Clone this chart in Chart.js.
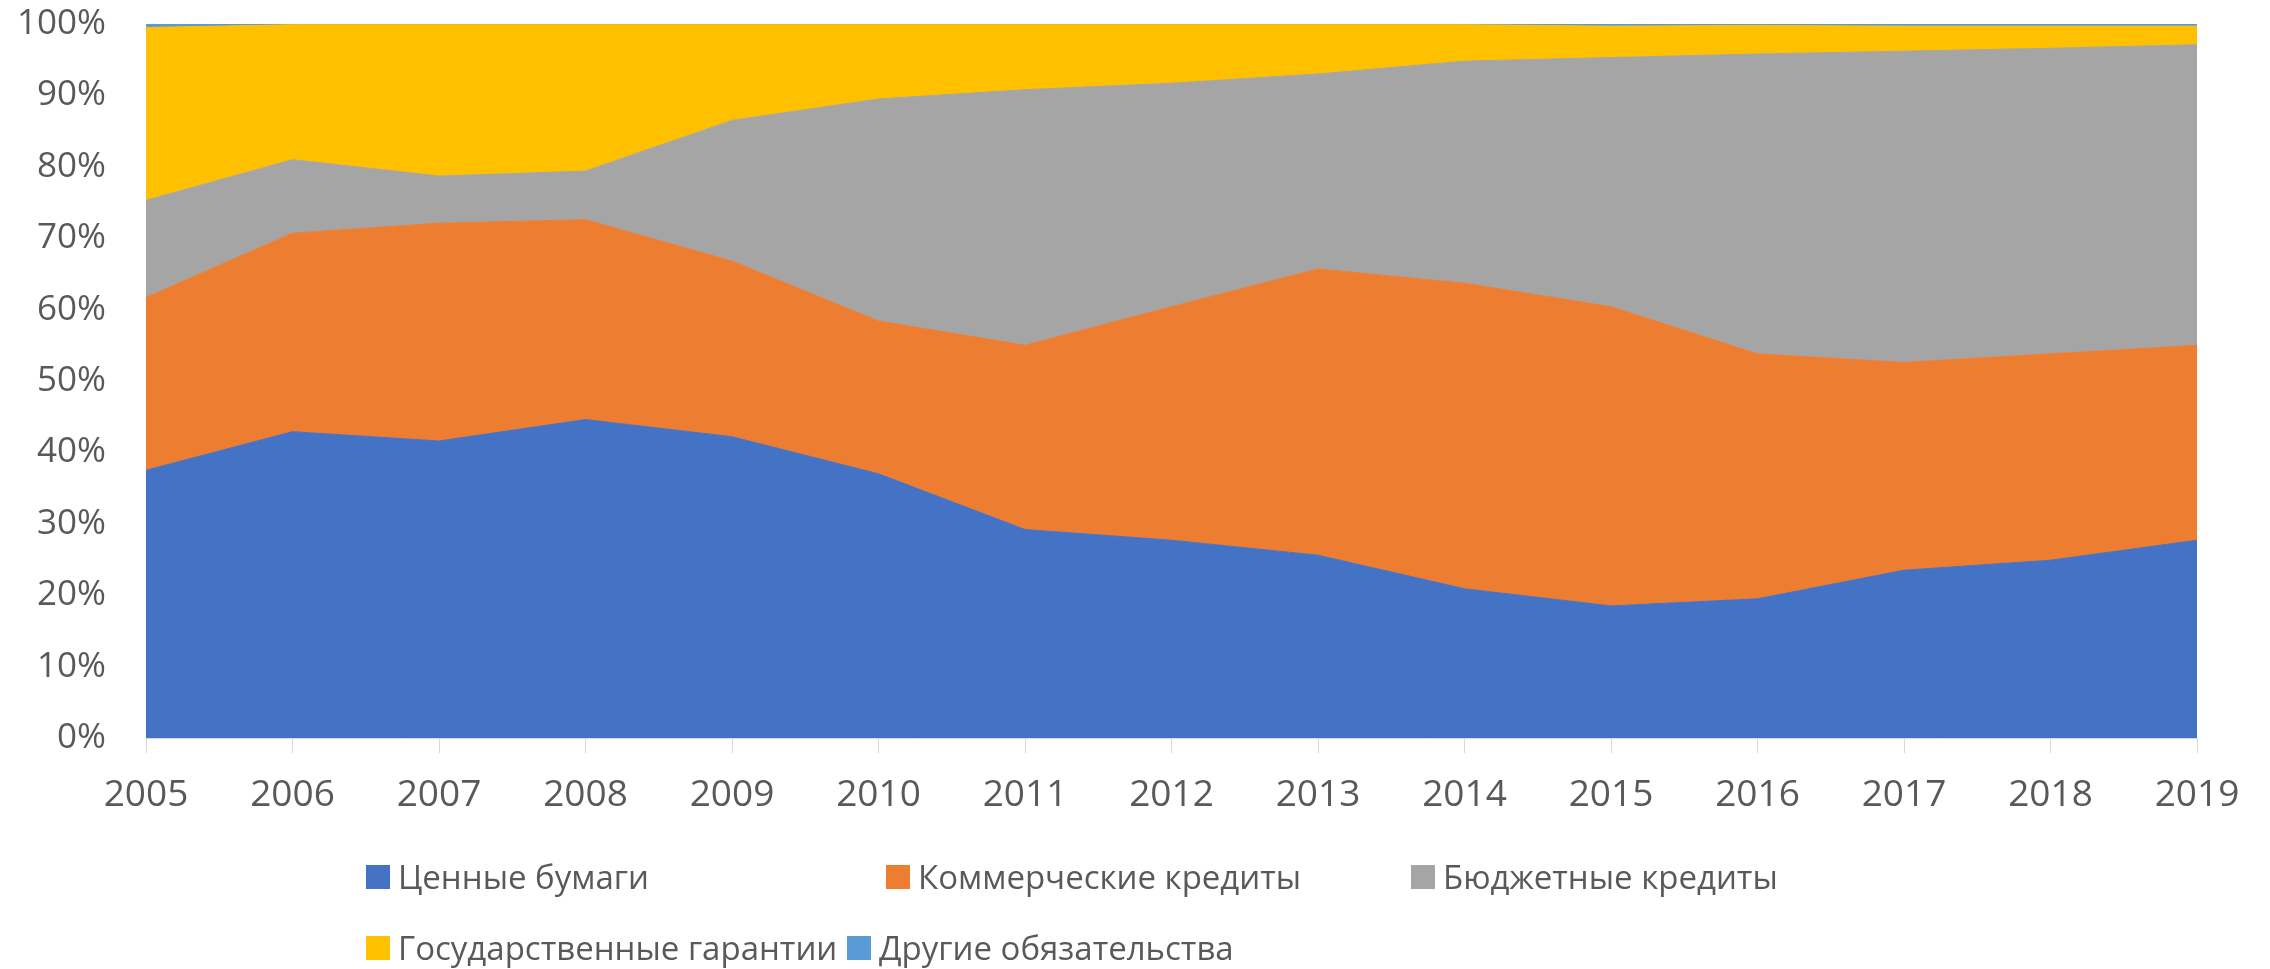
<!DOCTYPE html>
<html>
<head>
<meta charset="utf-8">
<script src="https://cdn.jsdelivr.net/npm/chart.js@4"></script>
<style>
  html, body { margin: 0; padding: 0; background: #fff; }
  #wrap { position: relative; width: 2270px; height: 969px; overflow: hidden; font-family: "Open Sans", sans-serif; }
  #myChart { position: absolute; left: 0; top: 0; }
  .leg { position: absolute; display: flex; align-items: center; font-size: 33px; line-height: 40px; color: #595959; white-space: nowrap; }
  .leg i { display: inline-block; width: 24px; height: 24px; margin-right: 8px; }
</style>
</head>
<body>
<div id="wrap">
  <canvas id="myChart" width="2270" height="969"></canvas>
  <div id="legend"></div>
</div>
<script>
  // years on the x axis
  const years = ['2005', '2006', '2007', '2008', '2009', '2010', '2011', '2012',
                 '2013', '2014', '2015', '2016', '2017', '2018', '2019'];

  // shares in %
  const securities = [37.5, 42.9, 41.6, 44.6, 42.2, 37.0, 29.2, 27.7, 25.6, 20.9, 18.5, 19.5, 23.5, 24.9, 27.7];
  const commercial = [24.2, 27.8, 30.5, 28.0, 24.6, 21.4, 25.8, 32.7, 40.1, 42.8, 41.9, 34.3, 29.1, 28.9, 27.3];
  const budget     = [13.6, 10.3,  6.6,  6.8, 19.7, 31.1, 35.8, 31.3, 27.3, 31.1, 34.9, 42.0, 43.6, 42.8, 42.1];
  const guarantees = [24.2, 18.9, 21.2, 20.5, 13.4, 10.4,  9.1,  8.2,  6.9,  5.1,  4.4,  4.0,  3.5,  3.1,  2.6];
  const other      = [ 0.5,  0.1,  0.1,  0.1,  0.1,  0.1,  0.1,  0.1,  0.1,  0.1,  0.3,  0.2,  0.3,  0.3,  0.3];

  const seriesNames = ['Ценные бумаги', 'Коммерческие кредиты', 'Бюджетные кредиты',
                       'Государственные гарантии', 'Другие обязательства'];
  const seriesValues = [securities, commercial, budget, guarantees, other];
  const colors = ['#4472C4', '#ED7D31', '#A5A5A5', '#FFC000', '#5B9BD5'];

  // y tick values
  const yTicks = [0, 10, 20, 30, 40, 50, 60, 70, 80, 90, 100];

  // legend slots (left edge, top), Excel-like layout
  const legendSlots = [[366, 857], [886, 857], [1411, 857], [366, 928], [847, 928]];

  const datasets = seriesValues.map((vals, i) => ({
    label: seriesNames[i],
    data: vals,
    backgroundColor: colors[i],
    borderColor: colors[i],
    borderWidth: 1,
    pointRadius: 0,
    tension: 0,
    fill: i === 0 ? 'origin' : '-1'
  }));

  const ctx = document.getElementById('myChart').getContext('2d');
  const myChart = new Chart(ctx, {
    type: 'line',
    data: { labels: years, datasets: datasets },
    options: {
      responsive: false,
      animation: false,
      layout: { padding: { left: 16, right: 73, top: 24, bottom: 159 } },
      plugins: { legend: { display: false }, tooltip: { enabled: false } },
      scales: {
        x: {
          offset: false,
          grid: { drawOnChartArea: false, drawTicks: true, tickLength: 15, color: '#d9d9d9' },
          border: { display: true, color: '#d9d9d9' },
          ticks: { color: '#595959', font: { family: 'Open Sans', size: 37 }, padding: 20, maxRotation: 0 },
          afterFit: (s) => { s.height = 72; s.paddingLeft = 0; s.paddingRight = 0; }
        },
        y: {
          stacked: true,
          min: 0,
          max: 100,
          grid: { display: false, drawTicks: false },
          border: { display: false },
          afterBuildTicks: (s) => { s.ticks = yTicks.map(v => ({ value: v })); },
          ticks: {
            color: '#595959',
            font: { family: 'Open Sans', size: 35 },
            padding: 40,
            callback: (v) => v + '%'
          },
          afterFit: (s) => { s.width = 130; s.paddingTop = 0; s.paddingBottom = 0; }
        }
      }
    }
  });

  // html legend
  const legend = document.getElementById('legend');
  seriesNames.forEach((name, i) => {
    const d = document.createElement('div');
    d.className = 'leg';
    d.style.left = legendSlots[i][0] + 'px';
    d.style.top = legendSlots[i][1] + 'px';
    d.innerHTML = '<i style="background:' + colors[i] + '"></i>' + name;
    legend.appendChild(d);
  });
</script>
</body>
</html>
